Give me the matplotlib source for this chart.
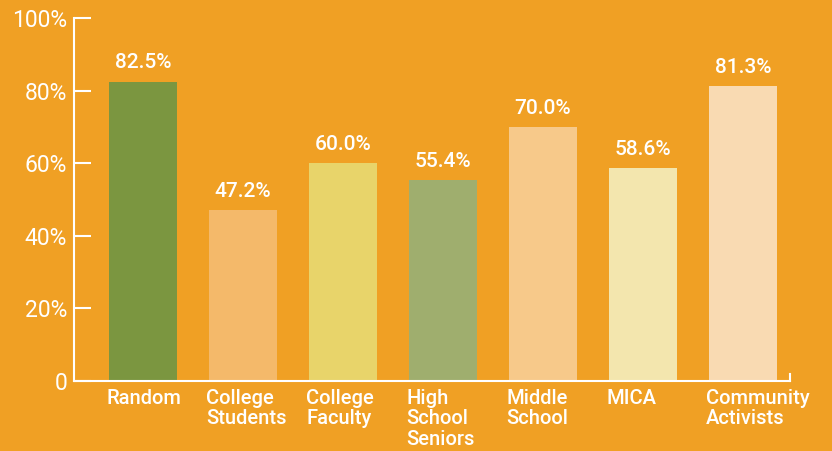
import matplotlib
matplotlib.use("Agg")
import matplotlib.pyplot as plt
from matplotlib.lines import Line2D

categories = ["Random", "College\nStudents", "College\nFaculty", "High\nSchool\nSeniors",
              "Middle\nSchool", "MICA", "Community\nActivists"]
values = [82.5, 47.2, 60.0, 55.4, 70.0, 58.6, 81.3]
colors = ["#7B9640", "#F4B96A", "#E8D46A", "#9FAE6E", "#F7C98A", "#F3E6AE", "#F9DAB2"]
yticks = [0, 20, 40, 60, 80, 100]
ytick_labels = ["0", "20%", "40%", "60%", "80%", "100%"]

bg = "#F0A024"
fig = plt.figure(figsize=(8.32, 4.51), dpi=100, facecolor=bg)
ax = fig.add_axes([74/832, 1-381/451, (790-74)/832, (381-18)/451])
ax.set_facecolor(bg)

x = list(range(len(categories)))
ax.bar(x, values, width=0.68, color=colors, zorder=1)
ax.set_xlim(-0.69, 6.47)
ax.set_ylim(0, 100)

for xi, v in zip(x, values):
    ax.annotate(f"{v:.1f}%", (xi, v), xytext=(0, 6.5), textcoords="offset points",
                ha="center", va="bottom", color="white", fontsize=15,
                family="Roboto", fontweight="medium")

for s in ["top", "right"]:
    ax.spines[s].set_visible(False)
for s in ["left", "bottom"]:
    ax.spines[s].set_color("white")
    ax.spines[s].set_linewidth(1.5)
    ax.spines[s].set_zorder(3)

ax.set_yticks(yticks)
ax.set_yticklabels(ytick_labels)
ax.tick_params(axis="y", direction="in", length=12, width=1.5, color="white",
               labelcolor="white", labelsize=16.5, pad=5)
for lab in ax.get_yticklabels():
    lab.set_family("Roboto")
    lab.set_fontweight("normal")

ax.set_xticks([])
for xi, c in zip(x, categories):
    ax.text(xi - 0.37, -2.2, c, ha="left", va="top", color="white", fontsize=14.5,
            family="Roboto", fontweight="medium", linespacing=1.1,
            transform=ax.transData, clip_on=False)

# small upward tick at the right end of the x axis
ax.add_line(Line2D([1, 1], [0, 0.02], transform=ax.transAxes, color="white",
                   lw=1.5, clip_on=False, zorder=3))

fig.savefig("out.png", dpi=100, facecolor=bg)
